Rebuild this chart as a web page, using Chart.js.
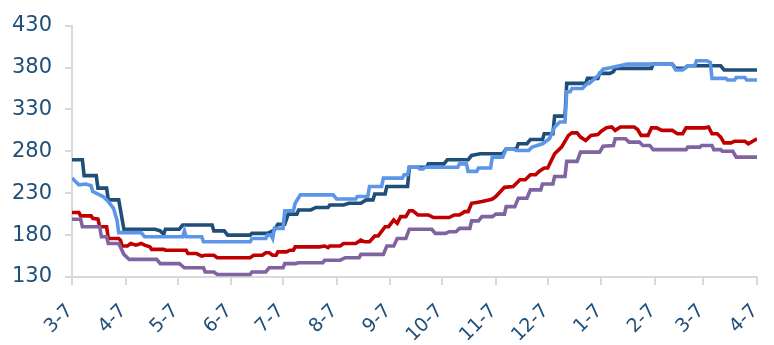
<!DOCTYPE html>
<html>
<head>
<meta charset="utf-8">
<script src="https://cdn.jsdelivr.net/npm/chart.js@4/dist/chart.umd.min.js"></script>
<style>
  html, body { margin: 0; padding: 0; background: #fff; }
  #wrap { width: 774px; height: 345px; position: relative; }
</style>
</head>
<body>
<div id="wrap"><canvas id="c"></canvas></div>
<script>
// Month ticks: days counted from the first date (3-7)
const tickDays   = [0, 31, 61, 92, 122, 153, 184, 214, 245, 275, 306, 337, 365, 396];
const tickLabels = ['3-7','4-7','5-7','6-7','7-7','8-7','9-7','10-7','11-7','12-7','1-7','2-7','3-7','4-7'];
const yTicks = [130, 180, 230, 280, 330, 380, 430];

// Series as [day, value] pairs
const lineNavy = [[0,270],[6,270],[7,251],[14,251],[15,236],[20,236],[21,222],[27,222],[30,187],[48,187],[51,185],[53,181],[54,187],[62,187],[64,192],[81,192],[82,185],[88,185],[90,180],[103,180],[104,182],[113,182],[117,186],[119,193],[123,193],[125,205],[130,205],[131,210],[138,210],[141,213],[148,213],[149,216],[157,216],[160,218],[167,218],[170,222],[174,222],[175,229],[181,229],[182,238],[194,238],[195,261],[205,261],[206,265],[215,265],[217,270],[229,270],[231,275],[236,277],[249,277],[251,283],[257,283],[258,289],[263,289],[265,294],[272,294],[273,301],[278,301],[279,322],[285,322],[286,361],[297,361],[298,367],[304,367],[305,373],[311,373],[313,375],[314,379],[335,379],[336,384],[347,384],[349,379],[354,379],[356,382],[375,382],[377,377],[396,377]];

const lineSky = [[0,248],[2,244],[4,240],[8,241],[11,239],[12,232],[18,226],[21,220],[24,212],[26,198],[27,183],[40,183],[42,178],[64,178],[65,185],[66,178],[75,178],[76,172],[103,172],[104,176],[112,176],[113,180],[115,180],[116,176],[117,188],[122,188],[123,209],[128,209],[129,218],[132,228],[151,228],[153,223],[164,223],[165,226],[171,226],[172,238],[179,238],[180,248],[191,248],[192,252],[194,252],[195,261],[200,261],[201,259],[203,259],[204,261],[223,261],[224,265],[228,265],[229,256],[234,256],[235,260],[242,260],[243,273],[249,273],[251,283],[255,283],[257,281],[264,281],[266,285],[272,289],[276,295],[279,309],[282,315],[285,315],[286,351],[288,351],[289,355],[295,355],[298,361],[299,361],[304,370],[307,378],[312,380],[321,384],[347,384],[349,377],[353,377],[356,382],[360,382],[361,388],[367,388],[369,386],[370,367],[378,367],[379,365],[383,365],[384,368],[389,368],[390,365],[396,365]];

const lineRed = [[0,207],[4,207],[5,203],[11,203],[12,200],[15,199],[16,190],[20,190],[21,176],[27,176],[28,174],[29,167],[32,167],[34,170],[37,168],[40,170],[42,168],[45,166],[46,163],[53,163],[54,162],[66,162],[67,158],[72,158],[75,155],[77,156],[82,156],[84,153],[103,153],[105,156],[110,156],[112,159],[114,159],[116,156],[118,156],[119,160],[124,160],[126,162],[128,162],[129,166],[143,166],[146,167],[148,165],[149,167],[155,167],[157,170],[164,170],[167,174],[169,172],[172,172],[175,179],[177,179],[181,190],[183,190],[186,198],[188,194],[190,202],[193,202],[195,209],[197,209],[200,204],[206,204],[209,201],[218,201],[221,204],[224,204],[227,208],[229,208],[231,218],[234,219],[237,220],[241,222],[243,223],[245,226],[250,237],[255,238],[259,246],[262,246],[265,252],[268,252],[270,256],[273,260],[275,260],[279,277],[283,285],[287,299],[289,302],[292,302],[294,297],[297,293],[300,299],[304,300],[306,304],[309,308],[312,309],[314,305],[317,309],[325,309],[327,306],[329,299],[333,299],[335,308],[338,308],[341,305],[347,305],[350,301],[353,301],[355,308],[366,308],[368,309],[370,301],[373,301],[375,297],[377,290],[381,290],[383,292],[389,292],[391,289],[396,295]];

const linePurple = [[0,199],[5,199],[6,190],[16,190],[17,178],[20,178],[21,170],[27,170],[30,157],[32,153],[33,151],[49,151],[51,146],[62,146],[65,141],[76,141],[77,136],[82,136],[84,133],[103,133],[104,136],[112,136],[114,141],[122,141],[123,146],[129,146],[131,147],[145,147],[146,150],[155,150],[158,153],[166,153],[167,157],[180,157],[182,167],[186,167],[188,176],[193,176],[195,187],[208,187],[210,182],[216,182],[218,184],[222,184],[224,188],[230,188],[231,197],[235,197],[237,202],[243,202],[245,205],[250,205],[251,214],[256,214],[258,224],[263,224],[265,234],[271,234],[272,241],[278,241],[279,250],[285,250],[286,268],[292,268],[294,279],[305,279],[307,286],[313,287],[314,295],[320,295],[322,291],[328,291],[330,287],[334,287],[336,282],[355,282],[356,285],[363,285],[364,287],[370,287],[371,282],[375,282],[376,280],[382,280],[384,273],[396,273]];

const toPoints = arr => arr.map(([x, y]) => ({ x, y }));
const axisColor = '#D9D9D9';
const textColor = '#1F4E79';

function series(data, color) {
  return {
    data: toPoints(data),
    borderColor: color,
    backgroundColor: color,
    borderWidth: 3.6,
    pointRadius: 0,
    tension: 0,
    fill: false
  };
}

new Chart(document.getElementById('c'), {
  type: 'line',
  data: {
    datasets: [
      series(linePurple, '#8064A2'),
      series(lineRed, '#C00000'),
      series(lineSky, '#5B96E8'),
      series(lineNavy, '#1F4E79')
    ]
  },
  options: {
    responsive: true,
    maintainAspectRatio: false,
    animation: false,
    layout: { padding: { top: 24, right: 17, left: 4, bottom: 0 } },
    plugins: { legend: { display: false }, tooltip: { enabled: false } },
    scales: {
      x: {
        type: 'linear',
        min: 0,
        max: 396,
        afterBuildTicks: axis => { axis.ticks = tickDays.map(v => ({ value: v })); },
        afterFit: axis => {
          axis.height = 68;
          axis.paddingLeft = 0;
          axis.paddingRight = 0;
        },
        ticks: {
          autoSkip: false,
          maxRotation: 45,
          minRotation: 45,
          color: textColor,
          font: { family: 'DejaVu Sans', size: 19 },
          padding: 15,
          labelOffset: -2,
          callback: v => tickLabels[tickDays.indexOf(v)]
        },
        grid: { drawOnChartArea: false, drawTicks: true, tickLength: 8, color: axisColor, lineWidth: 2 },
        border: { display: true, color: axisColor, width: 2 }
      },
      y: {
        min: 130,
        max: 430,
        afterBuildTicks: axis => { axis.ticks = yTicks.map(v => ({ value: v })); },
        afterFit: axis => { axis.width = 68; },
        ticks: { color: textColor, font: { family: 'DejaVu Sans', size: 21 }, padding: 13 },
        grid: { drawOnChartArea: false, drawTicks: true, tickLength: 7, color: axisColor, lineWidth: 2 },
        border: { display: true, color: axisColor, width: 2 }
      }
    }
  }
});
</script>
</body>
</html>
